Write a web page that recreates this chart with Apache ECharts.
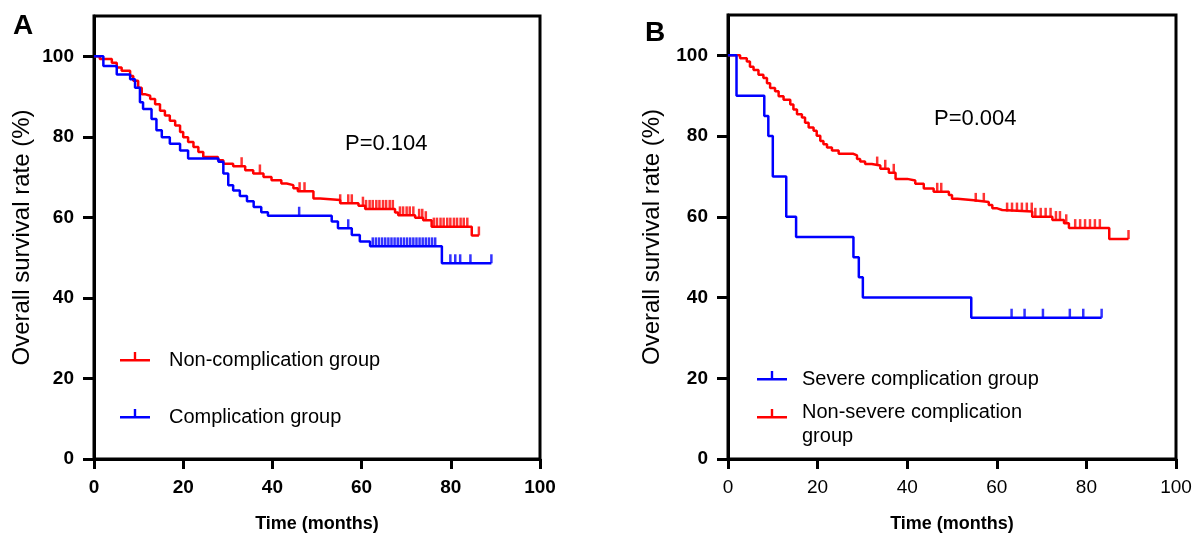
<!DOCTYPE html>
<html>
<head>
<meta charset="utf-8">
<script src="https://cdn.jsdelivr.net/npm/echarts/dist/echarts.min.js"></script>
<style>
html, body { margin: 0; padding: 0; background: #fff; }
#main { width: 1199px; height: 538px; }
</style>
</head>
<body>
<div id="main"></div>
<script>
// ticks shared by both panels
var xTicks = [0, 20, 40, 60, 80, 100];
var yTicks = [0, 20, 40, 60, 80, 100];

// Panel A - Non-complication group (red): time of each drop and the new level
var redA_t = [0, 1.3, 4, 5.1, 6.2, 8.1, 8.8, 9.9, 10.7, 11.4, 12.6, 13.7, 14.8, 15.9, 17, 18.2, 19.3, 20, 21.1, 22.3, 23.4, 24.5, 27.8, 29, 31.2, 33.9, 35.7, 38, 39.8, 42, 43.2, 44.7, 45.7, 49.2, 50.7, 55.2, 59.3, 60.8, 67.5, 68.2, 72, 73.8, 75.7, 84.7, 86.3];
var redA_s = [100, 99.3, 98.4, 97.2, 96.4, 95.1, 93.9, 92.2, 90.6, 90.2, 89.4, 88.1, 86.5, 85.3, 84, 82.8, 81.2, 79.9, 78.7, 77.5, 76.2, 75, 74.2, 73.3, 72.7, 71.7, 70.9, 70, 69.2, 68.4, 68, 67.2, 66.5, 64.7, 64.3, 63.5, 62.9, 62.1, 61.2, 60.5, 59.9, 59.3, 57.7, 55.5, 55.5];
var redA_cens = [33.1, 37.2, 46.1, 47.2, 55.2, 57, 57.8, 60.3, 61, 61.8, 62.5, 63.3, 64, 64.8, 65.5, 66.3, 67, 68.6, 69.3, 70.1, 70.8, 71.6, 72.9, 73.6, 74.4, 76.2, 76.9, 77.7, 78.4, 79.2, 79.9, 80.7, 81.4, 82.2, 82.9, 83.7, 86.3];

// Panel A - Complication group (blue)
var blueA_t = [0, 2.1, 5.1, 8.1, 9.2, 10.3, 11, 12.9, 14, 15.2, 17, 19.3, 21.1, 27.9, 29, 30.1, 31.2, 32.7, 34.3, 35.8, 37.5, 39, 53.3, 54.7, 57.8, 59.6, 61.9, 78, 89.1];
var blueA_s = [100, 97.6, 95.5, 94.3, 92.2, 88.6, 86.9, 84.4, 81.6, 79.9, 78.3, 76.6, 74.6, 73.8, 70.9, 68, 66.7, 65.3, 64, 62.6, 61.3, 60.4, 59, 57.3, 55.6, 54, 52.8, 48.6, 48.6];
var blueA_cens = [46, 57, 62.5, 63.2, 63.9, 64.6, 65.3, 66, 66.7, 67.4, 68.1, 68.8, 69.5, 70.2, 70.9, 71.6, 72.3, 73, 73.7, 74.4, 75.1, 75.8, 76.5, 79.9, 81, 82.1, 84.4, 89.1];

// Panel B - Severe complication group (blue)
var blueB_t = [0, 1.9, 8.1, 9, 10, 13, 15.2, 28, 29.2, 30.1, 54.3, 83.4];
var blueB_s = [100, 90, 85, 80, 70, 60, 55, 50, 45, 40, 35, 35];
var blueB_cens = [63.3, 66.2, 70.3, 76.3, 79.3, 83.4];

// Panel B - Non-severe complication group (red)
var redB_t = [0, 2.7, 4.2, 4.9, 5.7, 6.8, 7.9, 8.7, 9.4, 10.5, 11.3, 12.4, 13.9, 14.6, 15.4, 16.5, 17.2, 18, 19.1, 19.8, 20.6, 21.3, 22.1, 23.2, 24.7, 28, 28.8, 29.5, 30.6, 32.1, 34, 35.9, 37.4, 40, 41.8, 43.7, 45.9, 49.3, 50, 51.2, 54.9, 58.2, 59, 60.1, 61.2, 67.9, 72.4, 75, 76.1, 85.1, 89.4];
var redB_s = [100, 99.3, 98.5, 97.2, 96.4, 95.2, 94.4, 93.1, 91.9, 91.1, 89.9, 89, 87.8, 86.6, 85.4, 84.6, 83.3, 82.1, 81.3, 80.1, 78.8, 78, 77.2, 76.4, 75.6, 75.2, 74.3, 73.7, 73.1, 72.7, 71.9, 70.9, 69.4, 69, 68.2, 67, 66.2, 65.4, 64.5, 64.1, 63.7, 62.9, 62.1, 61.7, 61.3, 60, 59.2, 58.4, 57.2, 54.5, 54.5];
var redB_cens = [33.3, 35.1, 37, 46.7, 47.6, 55.3, 57.1, 62.3, 63.4, 64.5, 65.6, 66.7, 67.8, 68.6, 69.8, 70.9, 72, 73.2, 74.1, 75.5, 77.5, 78.6, 79.7, 80.8, 81.9, 83, 89.4];

var FONT = 'Arial, "Liberation Sans", sans-serif';
var RED = '#ff0000';
var BLUE = '#0000ff';
// horizontal line with a small upward tick, centred in a 30x30 box
var legendIcon = 'path://M0,14H30V16.5H0Z M13.8,7H16.2V14H13.8Z M0,0H0.01V0.01H0Z M0,30H0.01V30.01H0Z';
// same mark drawn higher in the box, for the two-line legend entry
var legendIconHigh = 'path://M0,7H30V9.5H0Z M13.8,0H16.2V7H13.8Z M0,30H0.01V30.01H0Z';

function stepAt(ts, ss, t) {
    var v = ss[0];
    for (var i = 0; i < ts.length; i++) {
        if (ts[i] <= t) v = ss[i];
    }
    return v;
}

function kmLine(name, ts, ss, color, idx) {
    return {
        name: name,
        type: 'line',
        step: 'end',
        xAxisIndex: idx,
        yAxisIndex: idx,
        color: color,
        showSymbol: false,
        symbol: 'none',
        lineStyle: {color: color, width: 2.5},
        itemStyle: {color: color},
        data: ts.map(function (t, i) { return [t, ss[i]]; })
    };
}

function censorMarks(name, cens, ts, ss, color, idx) {
    return {
        name: name,
        type: 'scatter',
        xAxisIndex: idx,
        yAxisIndex: idx,
        symbol: 'rect',
        symbolSize: [2.5, 9],
        symbolOffset: [0, -4.5],
        itemStyle: {color: color},
        silent: true,
        data: cens.map(function (t) { return [t, stepAt(ts, ss, t)]; })
    };
}

function xAxisFor(idx, bold) {
    return {
        type: 'value', gridIndex: idx, min: 0, max: 100, interval: 20,
        name: 'Time (months)', nameLocation: 'middle', nameGap: 56,
        nameTextStyle: {fontFamily: FONT, fontSize: 18, fontWeight: 'bold', color: '#000'},
        axisLine: {show: true, lineStyle: {color: '#000', width: 3}},
        axisTick: {show: true, length: 10, lineStyle: {color: '#000', width: 3}},
        axisLabel: {margin: 19, fontFamily: FONT, fontSize: 19, fontWeight: bold ? 'bold' : 'normal', color: '#000'},
        splitLine: {show: false}
    };
}

function yAxisFor(idx, gap) {
    return {
        type: 'value', gridIndex: idx, min: 0, max: 110, interval: 20,
        name: 'Overall survival rate (%)', nameLocation: 'middle', nameGap: gap,
        nameTextStyle: {fontFamily: FONT, fontSize: 24, color: '#000'},
        axisLine: {show: true, lineStyle: {color: '#000', width: 3}},
        axisTick: {show: true, length: 11, customValues: yTicks, lineStyle: {color: '#000', width: 3}},
        axisLabel: {margin: 20, customValues: yTicks, fontFamily: FONT, fontSize: 19, fontWeight: 'bold', color: '#000'},
        splitLine: {show: false}
    };
}

var chart = echarts.init(document.getElementById('main'));
var option = {
    animation: false,
    backgroundColor: '#fff',
    title: [
        {text: 'A', left: 13, top: 12, padding: 0, textStyle: {fontFamily: FONT, fontSize: 28, fontWeight: 'bold', color: '#000'}},
        {text: 'B', left: 645, top: 19, padding: 0, textStyle: {fontFamily: FONT, fontSize: 28, fontWeight: 'bold', color: '#000'}},
        {text: 'P=0.104', left: 345, top: 133, padding: 0, textStyle: {fontFamily: FONT, fontSize: 22, fontWeight: 'normal', color: '#000'}},
        {text: 'P=0.004', left: 934, top: 108, padding: 0, textStyle: {fontFamily: FONT, fontSize: 22, fontWeight: 'normal', color: '#000'}}
    ],
    legend: [
        {
            data: ['Non-complication group', 'Complication group'],
            orient: 'vertical', left: 115, top: 340, itemGap: 27,
            itemWidth: 30, itemHeight: 30, icon: legendIcon,
            selectedMode: false,
            textStyle: {fontFamily: FONT, fontSize: 20, color: '#000', padding: [0, 0, 0, 14]}
        },
        {
            data: ['Severe complication group', {name: 'Non-severe complication group', icon: legendIconHigh}],
            orient: 'vertical', left: 752, top: 359, itemGap: 6,
            itemWidth: 30, itemHeight: 30, icon: legendIcon,
            selectedMode: false,
            formatter: function (name) {
                return name === 'Non-severe complication group' ? 'Non-severe complication\ngroup' : name;
            },
            textStyle: {fontFamily: FONT, fontSize: 20, lineHeight: 24, color: '#000', padding: [0, 0, 0, 10]}
        }
    ],
    grid: [
        {left: 94, right: 659, top: 16, bottom: 75, show: true, borderColor: '#000', borderWidth: 3, backgroundColor: 'transparent'},
        {left: 728, right: 23, top: 15, bottom: 73, show: true, borderColor: '#000', borderWidth: 3, backgroundColor: 'transparent'}
    ],
    xAxis: [xAxisFor(0, true), xAxisFor(1, false)],
    yAxis: [yAxisFor(0, 60), yAxisFor(1, 64)],
    series: [
        kmLine('Non-complication group', redA_t, redA_s, RED, 0),
        censorMarks('redA censored', redA_cens, redA_t, redA_s, RED, 0),
        kmLine('Complication group', blueA_t, blueA_s, BLUE, 0),
        censorMarks('blueA censored', blueA_cens, blueA_t, blueA_s, BLUE, 0),
        kmLine('Non-severe complication group', redB_t, redB_s, RED, 1),
        censorMarks('redB censored', redB_cens, redB_t, redB_s, RED, 1),
        kmLine('Severe complication group', blueB_t, blueB_s, BLUE, 1),
        censorMarks('blueB censored', blueB_cens, blueB_t, blueB_s, BLUE, 1)
    ]
};
chart.setOption(option);
</script>
</body>
</html>
